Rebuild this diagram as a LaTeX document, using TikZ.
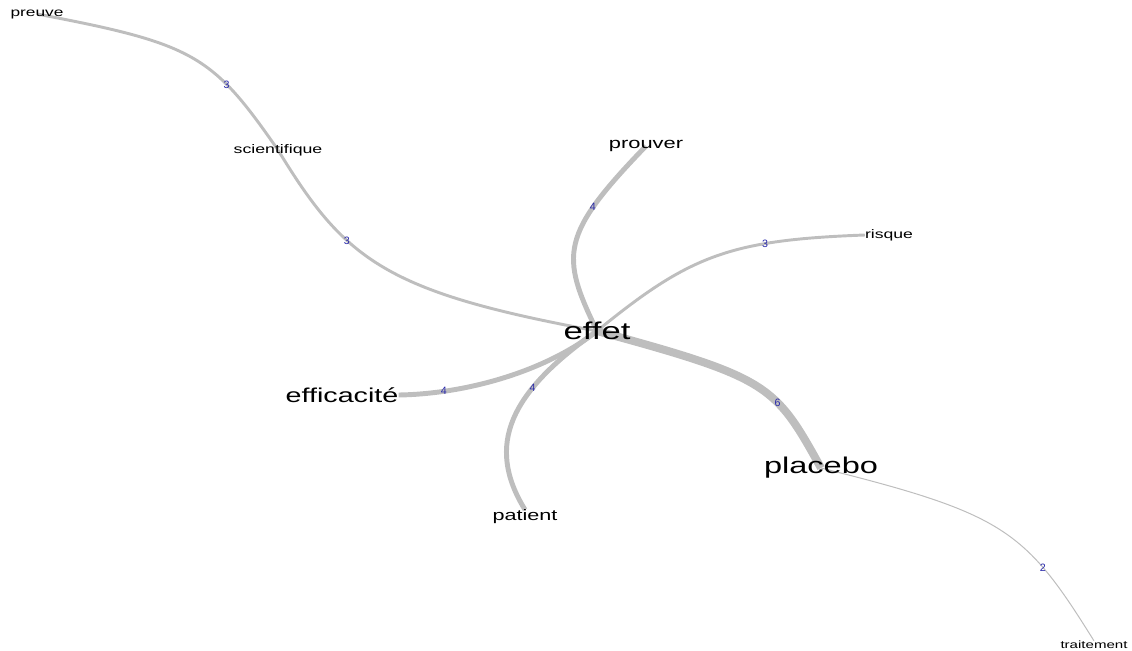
\documentclass[tikz,border=0pt]{standalone}
\usepackage{fontspec}
\setmainfont{Liberation Sans}
\usepackage{graphicx}
\usepackage{xcolor}
\usetikzlibrary{backgrounds}

\definecolor{edgegrey}{HTML}{BEBEBE}
\definecolor{weightblue}{RGB}{40,40,170}
\newcommand{\squash}[1]{\scalebox{1}[0.7]{#1}}

\begin{document}
\begin{tikzpicture}[x=0.75pt, y=-0.75pt,
    word/.style={inner sep=0pt, text=black},
    wgt/.style={inner sep=0pt, text=weightblue, font=\fontsize{8}{8}\selectfont},
    wtwo/.style={draw=edgegrey, line width=0.75pt},
    wthree/.style={draw=edgegrey, line width=2.2pt},
    wfour/.style={draw=edgegrey, line width=3.7pt},
    wsix/.style={draw=edgegrey, line width=6pt}
]
    \useasboundingbox (0,0) rectangle (1132,650);

    % words
    \node[word, font=\fontsize{26}{26}\selectfont] (effet) at (597,331) {\squash{effet}};
    \node[word, font=\fontsize{24.4}{24}\selectfont] (placebo) at (821,468) {\squash{placebo}};
    \node[word, font=\fontsize{21.5}{21}\selectfont] (efficacite) at (342,395) {\squash{efficacité}};
    \node[word, font=\fontsize{16.4}{16}\selectfont] (prouver) at (646,146) {\squash{prouver}};
    \node[word, font=\fontsize{16.2}{16}\selectfont] (patient) at (525,517) {\squash{patient}};
    \node[word, font=\fontsize{13}{13}\selectfont] (preuve) at (37,14) {\squash{preuve}};
    \node[word, font=\fontsize{13.3}{13}\selectfont] (scientifique) at (278,150) {\squash{scientifique}};
    \node[word, font=\fontsize{13.2}{13}\selectfont] (risque) at (889,235) {\squash{risque}};
    \node[word, font=\fontsize{11.3}{11}\selectfont] (traitement) at (1094,645) {\squash{traitement}};

    % co-occurrence edges
    \begin{scope}[on background layer]
        \draw[wthree] (preuve.center) .. controls (195,44) and (212,55) .. (scientifique.center)
            node[wgt, pos=0.7] (n1) {3};
        \draw[wthree] (scientifique.center) .. controls (345,260) and (385,292) .. (effet.center)
            node[wgt, pos=0.35] (n2) {3};
        \draw[wfour] (prouver.center) .. controls (560,235) and (560,255) .. (effet.center)
            node[wgt, pos=0.28] (n3) {4};
        \draw[wthree] (risque.west) .. controls (730,240) and (690,255) .. (effet.center)
            node[wgt, pos=0.3] (n4) {3};
        \draw[wfour] (efficacite.east) .. controls (465,394) and (545,372) .. (effet.center)
            node[wgt, pos=0.22] (n5) {4};
        \draw[wfour] (effet.center) .. controls (510,392) and (485,445) .. (patient.north)
            node[wgt, pos=0.32] (n6) {4};
        \draw[wsix] (effet.center) .. controls (770,378) and (775,385) .. (placebo.center)
            node[wgt, pos=0.64] (n7) {6};
        \draw[wtwo] (placebo.center) .. controls (1005,514) and (1025,530) .. (traitement.north)
            node[wgt, pos=0.72] (n8) {2};
    \end{scope}

\end{tikzpicture}
\end{document}
